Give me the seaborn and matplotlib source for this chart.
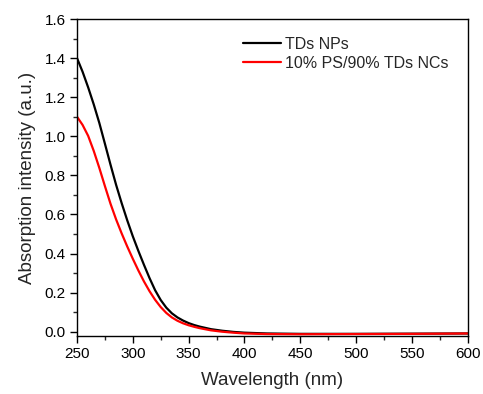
import matplotlib
matplotlib.use("Agg")
import matplotlib.pyplot as plt
import seaborn as sns
import pandas as pd
from matplotlib.ticker import MultipleLocator, FormatStrFormatter

wavelength = [250, 255, 260, 265, 270, 275, 280, 285, 290, 295, 300, 305, 310, 315,
              320, 325, 330, 335, 340, 345, 350, 355, 360, 370, 380, 390, 400, 420,
              450, 500, 550, 600]
tds_nps = [1.40, 1.33, 1.25, 1.163, 1.068, 0.962, 0.855, 0.752, 0.658, 0.57, 0.488,
           0.413, 0.342, 0.274, 0.212, 0.162, 0.123, 0.094, 0.073, 0.057, 0.044, 0.034,
           0.026, 0.013, 0.005, -0.001, -0.005, -0.009, -0.011, -0.011, -0.010, -0.009]
ps_tds_ncs = [1.10, 1.058, 1.002, 0.925, 0.838, 0.745, 0.655, 0.575, 0.503, 0.436,
              0.373, 0.313, 0.257, 0.207, 0.163, 0.126, 0.096, 0.073, 0.056, 0.043,
              0.033, 0.025, 0.018, 0.007, 0.0, -0.005, -0.009, -0.012, -0.013, -0.012,
              -0.011, -0.009]
labels = ["TDs NPs", "10% PS/90% TDs NCs"]
colors = ["#000000", "#ff0000"]

df = pd.DataFrame({
    "Wavelength": wavelength * 2,
    "Absorption": tds_nps + ps_tds_ncs,
    "Sample": [labels[0]] * len(wavelength) + [labels[1]] * len(wavelength),
})

sns.set_style("ticks")
plt.rcParams["font.family"] = ["Liberation Sans", "DejaVu Sans"]

fig = plt.figure(figsize=(4.83, 3.94), dpi=100)
ax = fig.add_axes([77 / 483, 58 / 394, 390.7 / 483, 317 / 394])

sns.lineplot(data=df, x="Wavelength", y="Absorption", hue="Sample",
             palette=dict(zip(labels, colors)), linewidth=1.6, ax=ax)

ax.set_xlim(250, 600)
ax.set_ylim(-0.022, 1.6)
ax.xaxis.set_major_locator(MultipleLocator(50))
ax.xaxis.set_minor_locator(MultipleLocator(25))
ax.yaxis.set_major_locator(MultipleLocator(0.2))
ax.yaxis.set_minor_locator(MultipleLocator(0.1))
ax.yaxis.set_major_formatter(FormatStrFormatter("%.1f"))

for s in ax.spines.values():
    s.set_visible(True)
    s.set_linewidth(1.0)
    s.set_color("black")

ax.tick_params(axis="both", which="major", direction="out", length=5, width=1.0,
               labelsize=11, colors="black", pad=3)
ax.tick_params(axis="both", which="minor", direction="out", length=3, width=1.0)
ax.tick_params(top=False, right=False, which="both")

ax.set_xlabel("Wavelength (nm)", fontsize=13.5, labelpad=8)
ax.set_ylabel("Absorption intensity (a.u.)", fontsize=13.5, labelpad=6)

leg = ax.legend(loc="upper left", bbox_to_anchor=(0.425, 0.944), frameon=False,
                fontsize=11.5, handlelength=2.4, handletextpad=0.25,
                labelspacing=0.25, borderpad=0, borderaxespad=0)
for line in leg.get_lines():
    line.set_linewidth(1.6)

fig.savefig("out.png", dpi=100)
